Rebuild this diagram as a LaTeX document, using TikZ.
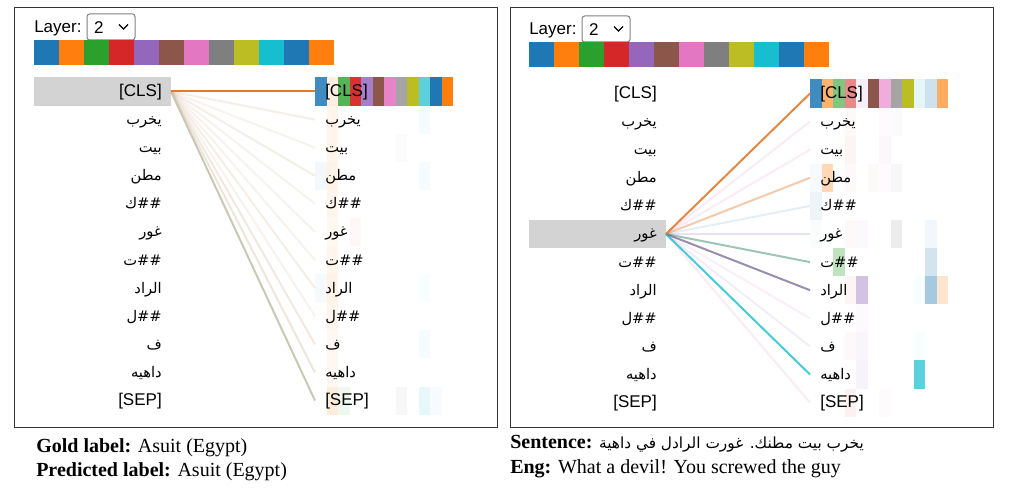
\documentclass[tikz,border=0pt]{standalone}
\usepackage{fontspec}
\setmainfont{Liberation Serif}
\newfontfamily\vizfont{Liberation Sans}
\newfontfamily\arabicfont[Script=Arabic]{DejaVu Sans}
\TeXXeTstate=1
\usepackage{tikz}
\usetikzlibrary{positioning}

\newcommand{\artok}[1]{{\arabicfont\fontsize{11pt}{13pt}\selectfont\beginR #1\endR}}

\definecolor{head1}{HTML}{1F77B4}
\definecolor{head2}{HTML}{FF7F0E}
\definecolor{head3}{HTML}{2CA02C}
\definecolor{head4}{HTML}{D62728}
\definecolor{head5}{HTML}{9467BD}
\definecolor{head6}{HTML}{8C564B}
\definecolor{head7}{HTML}{E377C2}
\definecolor{head8}{HTML}{7F7F7F}
\definecolor{head9}{HTML}{BCBD22}
\definecolor{head10}{HTML}{17BECF}
\definecolor{head11}{HTML}{1F77B4}
\definecolor{head12}{HTML}{FF7F0E}
\definecolor{selgray}{HTML}{D3D3D3}
\definecolor{lnorange}{HTML}{E07B2E}
\definecolor{lnfaint}{HTML}{C8A888}
\definecolor{lnsep}{HTML}{C8C8B4}
\definecolor{lnteal}{HTML}{5A9E85}
\definecolor{lnplum}{HTML}{6E5F8A}

\tikzset{
  viz/.style={font=\vizfont\fontsize{12.75pt}{14pt}\selectfont},
  src/.style={viz, anchor=east, inner xsep=6.75pt, inner ysep=0pt, text height=10pt, text depth=2.5pt},
  dst/.style={src, anchor=west, inner xsep=7.5pt},
  att/.style={line width=1.5pt},
  captxt/.style={font=\fontsize{15pt}{18pt}\selectfont, inner sep=0pt}
}

\begin{document}
\begin{tikzpicture}[x=0.75pt, y=-0.75pt]
\useasboundingbox (0,0) rectangle (1009,498);
%frames
\draw[black!80, line width=0.75pt] (14,8) rectangle (497,427);
\draw[black!80, line width=0.75pt] (510,8) rectangle (993,427);

%left panel
\begin{scope}
\node[viz, anchor=west, inner sep=0pt](layera) at (34,28){Layer:};
\draw[rounded corners=2pt, gray, line width=0.75pt] (87,14) rectangle (135,40);
\node[viz, inner sep=0pt, right=9pt of layera](numa){2};
\draw[line width=1pt] (119,24.5)--(123.5,29)--(128,24.5);
\foreach \h in {1,...,12} \fill[head\h] (9+25*\h,40) rectangle ++(25,25);
%heads
\foreach \r/\h/\o in {0/1/.85,0/2/.12,0/3/.8,0/4/.95,0/5/.85,0/6/1,0/7/.9,0/8/.7,0/9/1,0/10/.7,0/11/1,0/12/1,
  1/2/.08,1/10/.04,2/2/.08,2/8/.03,3/1/.05,3/2/.1,3/10/.04,4/2/.08,5/2/.06,5/4/.03,6/2/.08,
  7/1/.04,7/2/.1,7/10/.03,8/2/.08,9/2/.06,9/10/.04,10/2/.06,
  11/2/.15,11/3/.08,11/8/.06,11/10/.1,11/11/.03}
  \fill[head\h, opacity=\o] (303.5+11.5*\h,77.5+28.1*\r) rectangle ++(11.5,28.1);
\fill[selgray] (34,77.5) rectangle (171,105.6);
%tokens
\foreach \t [count=\i from 0] in {{[CLS]},\artok{يخرب},\artok{بيت},\artok{مطن},\artok{\#\#ك},\artok{غور},
  \artok{\#\#ت},\artok{الراد},\artok{\#\#ل},\artok{ف},\artok{داهيه},{[SEP]}}{
  \node[src](a-src-\i) at (171,91.5+28.1*\i){\t};
  \node[dst](a-dst-\i) at (315,91.5+28.1*\i){\t};
}
%path
\foreach \i/\c/\o in {1/lnfaint/.2,2/lnfaint/.15,3/lnfaint/.2,4/lnfaint/.15,5/lnfaint/.15,
  6/lnfaint/.15,7/lnfaint/.2,8/lnfaint/.15,9/lnfaint/.25,10/lnfaint/.3,11/lnsep/1,0/lnorange/1}
  \path[draw, att, \c, opacity=\o](a-src-0.east)--(a-dst-\i.west);
\end{scope}

%right panel
\begin{scope}[shift={(495,2)}]
\node[viz, anchor=west, inner sep=0pt](layerb) at (34,28){Layer:};
\draw[rounded corners=2pt, gray, line width=0.75pt] (87,14) rectangle (135,40);
\node[viz, inner sep=0pt, right=9pt of layerb](numb){2};
\draw[line width=1pt] (119,24.5)--(123.5,29)--(128,24.5);
\foreach \h in {1,...,12} \fill[head\h] (9+25*\h,40) rectangle ++(25,25);
%heads
\foreach \r/\h/\o in {0/1/.85,0/2/.6,0/3/.6,0/4/.55,0/5/.1,0/6/1,0/7/.6,0/8/.7,0/9/1,0/10/.12,0/11/.22,0/12/.65,
  1/4/.03,1/7/.04,1/8/.03,2/4/.05,2/7/.06,3/1/.04,3/2/.3,3/4/.03,3/6/.03,3/7/.04,3/8/.06,
  4/1/.08,5/1/.02,5/4/.03,5/5/.04,5/8/.15,5/11/.06,6/3/.3,6/11/.2,
  7/4/.05,7/5/.4,7/10/.03,7/11/.4,7/12/.2,8/5/.03,9/4/.03,9/5/.06,9/10/.03,
  10/5/.08,10/10/.7,11/4/.07,11/7/.03}
  \fill[head\h, opacity=\o] (303.5+11.5*\h,77.5+28.1*\r) rectangle ++(11.5,28.1);
\fill[selgray] (34,218) rectangle (171,246.1);
%tokens
\foreach \t [count=\i from 0] in {{[CLS]},\artok{يخرب},\artok{بيت},\artok{مطن},\artok{\#\#ك},\artok{غور},
  \artok{\#\#ت},\artok{الراد},\artok{\#\#ل},\artok{ف},\artok{داهيه},{[SEP]}}{
  \node[src](b-src-\i) at (171,91.5+28.1*\i){\t};
  \node[dst](b-dst-\i) at (315,91.5+28.1*\i){\t};
}
%path
\foreach \i/\c/\o in {1/head7/.15,2/head7/.15,4/head1/.12,5/head5/.2,8/head7/.12,9/head5/.12,
  11/head7/.15,3/lnorange/.4,6/lnteal/.6,7/lnplum/.7,10/head10/.8,0/lnorange/.9}
  \path[draw, att, \c, opacity=\o](b-src-5.east)--(b-dst-\i.west);
\end{scope}

%captions
\node[captxt, anchor=west](gold) at (36,448){\textbf{Gold label:} Asuit (Egypt)};
\node[captxt, below=4pt of gold.south west, anchor=north west](pred){\textbf{Predicted label:} Asuit (Egypt)};
\node[captxt, anchor=west](sent) at (510,444){\textbf{Sentence:} {\arabicfont\fontsize{11.5pt}{14pt}\selectfont\beginR يخرب بيت مطنك. غورت الرادل في داهية\endR}};
\node[captxt, below=5pt of sent.south west, anchor=north west](eng){\textbf{Eng:} What a devil! You screwed the guy};
\end{tikzpicture}
\end{document}
